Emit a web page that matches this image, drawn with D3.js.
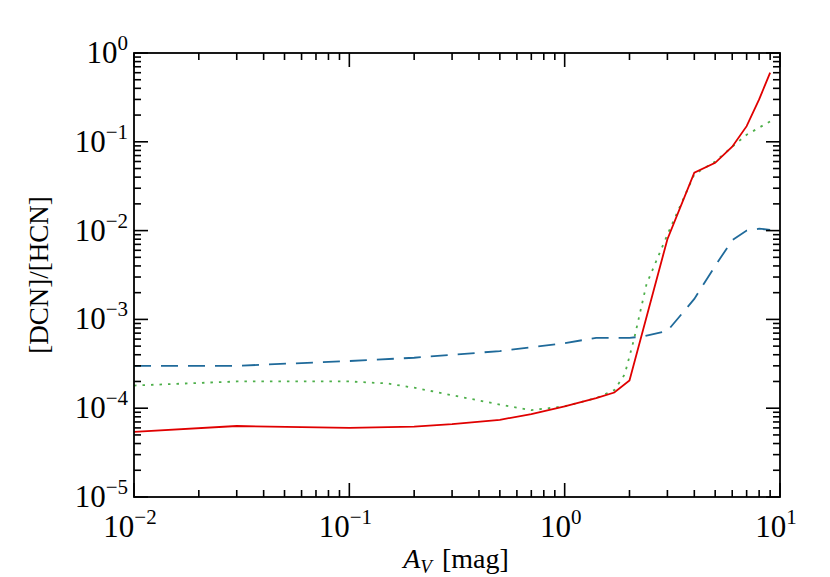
<!DOCTYPE html>
<html><head><meta charset="utf-8">
<script src="https://d3js.org/d3.v7.min.js"></script>
<style>body{margin:0;background:#fff} text{font-family:"Liberation Serif",Times,serif}</style></head>
<body><svg id="c" width="830" height="577"></svg>
<script>
const redX=[0.01,0.03,0.1,0.2,0.3,0.5,0.7,1.0,1.4,1.7,2.0,3,4,5,6,7,8,9];
const redY=[5.4e-5,6.3e-5,6.0e-5,6.2e-5,6.6e-5,7.4e-5,8.6e-5,1.05e-4,1.3e-4,1.5e-4,2.05e-4,8e-3,0.045,0.058,0.088,0.15,0.3,0.6];
const greenX=[0.01,0.03,0.1,0.15,0.2,0.3,0.5,0.7,1.0,1.4,1.7,1.9,2.1,2.4,3,4,5,6,7,9];
const greenY=[1.8e-4,2e-4,2e-4,1.9e-4,1.7e-4,1.4e-4,1.1e-4,9.5e-5,1.05e-4,1.3e-4,1.6e-4,2.4e-4,6e-4,2.5e-3,9e-3,0.043,0.06,0.088,0.12,0.17];
const blueX=[0.01,0.03,0.1,0.2,0.5,1.0,1.4,2.0,2.3,3,4,5,6,7,8,9];
const blueY=[3e-4,3e-4,3.4e-4,3.7e-4,4.4e-4,5.4e-4,6.2e-4,6.2e-4,6.4e-4,7.4e-4,1.7e-3,4e-3,7.8e-3,1e-2,1.05e-2,1.02e-2];
const xTicks=[1e-2,1e-1,1,10], xTickLabels=["−2","−1","0","1"];
const yTicks=[1e-5,1e-4,1e-3,1e-2,1e-1,1], yTickLabels=["−5","−4","−3","−2","−1","0"];

const L=134,R=780,T=53,B=497;
const svg=d3.select("#c");
const x=d3.scaleLog().domain([1e-2,10]).range([L,R]);
const y=d3.scaleLog().domain([1e-5,1]).range([B,T]);
const line=d3.line().x(d=>x(d[0])).y(d=>y(d[1]));
function draw(xs,ys,color,dash){
  svg.append("path").datum(xs.map((v,i)=>[v,ys[i]])).attr("d",line)
   .attr("fill","none").attr("stroke",color).attr("stroke-width",1.8).attr("stroke-dasharray",dash);
}
draw(greenX,greenY,"#4daf4a","2.5,6");
draw(blueX,blueY,"#1f6a9a","17,10");
draw(redX,redY,"#e00000",null);

function minor(d){const out=[];for(let e=d[0];e<d[1];e*=10)for(let k=2;k<10;k++)out.push(e*k);return out;}
const g=svg.append("g").attr("stroke","#000").attr("stroke-width",1.6);
xTicks.forEach(v=>{g.append("line").attr("x1",x(v)).attr("x2",x(v)).attr("y1",B).attr("y2",B-14);
 g.append("line").attr("x1",x(v)).attr("x2",x(v)).attr("y1",T).attr("y2",T+14);});
minor([1e-2,10]).forEach(v=>{g.append("line").attr("x1",x(v)).attr("x2",x(v)).attr("y1",B).attr("y2",B-7);
 g.append("line").attr("x1",x(v)).attr("x2",x(v)).attr("y1",T).attr("y2",T+7);});
yTicks.forEach(v=>{g.append("line").attr("y1",y(v)).attr("y2",y(v)).attr("x1",L).attr("x2",L+14);
 g.append("line").attr("y1",y(v)).attr("y2",y(v)).attr("x1",R).attr("x2",R-14);});
minor([1e-5,1]).forEach(v=>{g.append("line").attr("y1",y(v)).attr("y2",y(v)).attr("x1",L).attr("x2",L+7);
 g.append("line").attr("y1",y(v)).attr("y2",y(v)).attr("x1",R).attr("x2",R-7);});
svg.append("rect").attr("x",L).attr("y",T).attr("width",R-L).attr("height",B-T)
 .attr("fill","none").attr("stroke","#000").attr("stroke-width",1.8);

xTicks.forEach((v,i)=>{const t=svg.append("text").attr("x",x(v)-4).attr("y",B+40).attr("text-anchor","middle").attr("font-size",31);
 t.append("tspan").text("10"); t.append("tspan").attr("dy",-13).attr("font-size",21).text(xTickLabels[i]);});
yTicks.forEach((v,i)=>{const t=svg.append("text").attr("x",L-6).attr("y",y(v)+10).attr("text-anchor","end").attr("font-size",31);
 t.append("tspan").text("10"); t.append("tspan").attr("dy",-13).attr("font-size",21).text(yTickLabels[i]);});

const xt=svg.append("text").attr("x",456).attr("y",568).attr("text-anchor","middle").attr("font-size",28);
xt.append("tspan").attr("font-style","italic").text("A");
xt.append("tspan").attr("font-style","italic").attr("font-size",19).attr("dy",5).text("V");
xt.append("tspan").attr("dy",-5).attr("dx",10).text("[mag]");
svg.append("text").attr("transform","translate(48,275) rotate(-90)").attr("text-anchor","middle")
 .attr("font-size",27).text("[DCN]/[HCN]");
</script></body></html>
